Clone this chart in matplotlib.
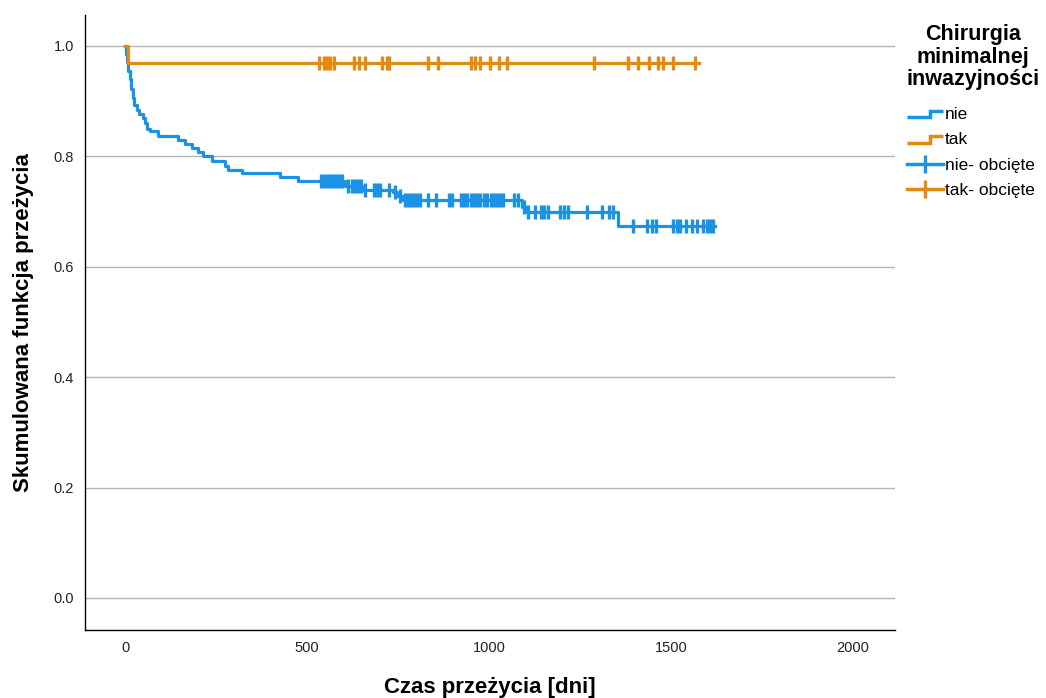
import numpy as np
import matplotlib

matplotlib.use("Agg")
import matplotlib.pyplot as plt
from matplotlib.legend_handler import HandlerBase
from matplotlib.lines import Line2D

plt.rcParams["font.family"] = ["Liberation Sans", "DejaVu Sans"]

# Kaplan-Meier steps: time of event (days) and survival after it
nie_times = [2, 5, 9, 13, 17, 21, 25, 33, 38, 50, 55, 61, 69, 90, 146, 165, 184, 201,
             214, 239, 275, 283, 321, 426, 475, 604, 650, 737, 748, 764, 1091, 1104, 1354]
nie_surv = [0.985, 0.970, 0.955, 0.940, 0.922, 0.905, 0.893, 0.884, 0.877, 0.870, 0.860,
            0.849, 0.845, 0.837, 0.829, 0.822, 0.815, 0.808, 0.800, 0.791, 0.782, 0.775,
            0.770, 0.763, 0.755, 0.746, 0.739, 0.735, 0.728, 0.721, 0.709, 0.700, 0.674]
nie_end = 1621
nie_censored = [538, 547, 555, 563, 571, 580, 588, 596, 613, 624, 632, 640, 648, 659, 684,
                692, 701, 725, 742, 755, 769, 777, 786, 794, 802, 810, 832, 854, 890, 898,
                923, 931, 940, 951, 959, 967, 975, 986, 995, 1005, 1014, 1022, 1030, 1038,
                1069, 1080, 1096, 1107, 1126, 1143, 1151, 1162, 1195, 1206, 1217, 1269,
                1310, 1330, 1341, 1396, 1434, 1448, 1459, 1505, 1516, 1525, 1541, 1558,
                1571, 1588, 1599, 1607, 1615]

tak_times = [8]
tak_surv = [0.969]
tak_end = 1577
tak_censored = [533, 547, 555, 563, 574, 629, 643, 659, 706, 720, 725, 832, 860, 951, 962,
                975, 1003, 1027, 1049, 1288, 1382, 1409, 1440, 1464, 1478, 1505, 1566]

y_ticks = [0.0, 0.2, 0.4, 0.6, 0.8, 1.0]
x_ticks = [0, 500, 1000, 1500, 2000]

blue = "#1a93e6"
orange = "#e28a12"


def step_arrays(times, surv, end):
    t = np.concatenate([[0], times, [end]])
    s = np.concatenate([[1.0], surv, [surv[-1]]])
    return t, s


def surv_at(times, surv, points):
    idx = np.searchsorted(times, points, side="right")
    s = np.concatenate([[1.0], surv])
    return s[idx]


class StepHandler(HandlerBase):
    def create_artists(self, legend, orig_handle, xdescent, ydescent, width, height, fontsize, trans):
        x0, y0 = -xdescent, -ydescent
        xs = [x0, x0 + 0.62 * width, x0 + 0.62 * width, x0 + width]
        ys = [y0 + 0.15 * height, y0 + 0.15 * height, y0 + 0.7 * height, y0 + 0.7 * height]
        line = Line2D(xs, ys, color=orig_handle.get_color(), lw=orig_handle.get_linewidth(),
                      solid_joinstyle="miter", solid_capstyle="butt")
        line.set_transform(trans)
        return [line]


fig = plt.figure(figsize=(10.46, 6.98), dpi=100)
ax = fig.add_axes([85 / 1046, 1 - 630 / 698, 810 / 1046, 615 / 698])

for times, surv, end, cens, color in [
    (nie_times, nie_surv, nie_end, nie_censored, blue),
    (tak_times, tak_surv, tak_end, tak_censored, orange),
]:
    t, s = step_arrays(times, surv, end)
    ax.step(t, s, where="post", color=color, lw=2.3, zorder=3)
    ax.plot(cens, surv_at(times, surv, cens), ls="none", marker="|", color=color,
            markersize=9.5, markeredgewidth=2.4, zorder=4)

ax.set_xlim(-110, 2115)
ax.set_ylim(-0.058, 1.056)
ax.set_xticks(x_ticks)
ax.set_yticks(y_ticks)
ax.set_yticklabels([f"{v:.1f}" for v in y_ticks])
ax.tick_params(length=0, labelsize=10.5, colors="#222222")
ax.tick_params(axis="x", pad=8)
ax.tick_params(axis="y", pad=8)

ax.grid(axis="y", color="#b4b4b4", lw=1.0)
ax.set_axisbelow(True)
for side in ["top", "right"]:
    ax.spines[side].set_visible(False)
for side in ["left", "bottom"]:
    ax.spines[side].set_color("black")
    ax.spines[side].set_linewidth(1.0)

ax.set_xlabel("Czas przeżycia [dni]", fontsize=16, fontweight="bold", labelpad=16)
ax.set_ylabel("Skumulowana funkcja przeżycia", fontsize=16, fontweight="bold", labelpad=14)

# legend title set as its own text block so the gap to the entries can be controlled
fig.text(973 / 1046, 1 - 57 / 698, "Chirurgia\nminimalnej\ninwazyjności",
         ha="center", va="center", fontsize=15.5, fontweight="bold", linespacing=1.1)

handles = [
    Line2D([], [], color=blue, lw=2.5),
    Line2D([], [], color=orange, lw=2.5),
    Line2D([], [], color=blue, lw=2.5, marker="|", markersize=13, markeredgewidth=2.4),
    Line2D([], [], color=orange, lw=2.5, marker="|", markersize=13, markeredgewidth=2.4),
]
labels = ["nie", "tak", "nie- obcięte", "tak- obcięte"]
leg = fig.legend(
    handles, labels,
    loc="upper left", bbox_to_anchor=(907 / 1046, 1 - 107 / 698),
    frameon=False, fontsize=12.5,
    handlelength=2.1, handletextpad=0.1, labelspacing=0.58,
    borderpad=0, borderaxespad=0, numpoints=1,
    handler_map={handles[0]: StepHandler(), handles[1]: StepHandler()},
)

fig.savefig("out.png", dpi=100)
